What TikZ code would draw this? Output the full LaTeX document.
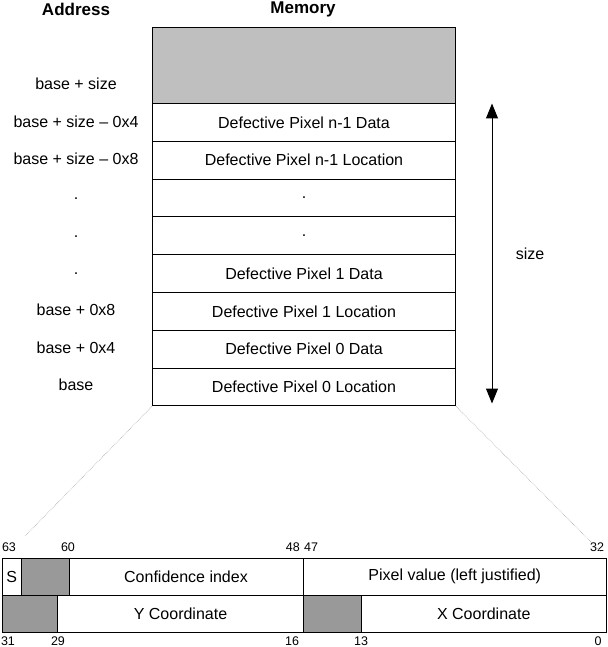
\documentclass[tikz,border=0pt]{standalone}
\usepackage{fontspec}
\setmainfont{Liberation Sans}
\usetikzlibrary{arrows.meta}
\begin{document}
\begin{tikzpicture}[x=1pt,y=-1pt,
  txt/.style={font=\fontsize{16}{18}\selectfont, inner sep=0pt},
  hdr/.style={font=\fontsize{17}{19}\selectfont\bfseries, inner sep=0pt},
  num/.style={font=\fontsize{12.5}{14}\selectfont, inner sep=0pt},
  cell/.style={draw=black, line width=1pt, minimum height=37.8pt, inner sep=0pt, anchor=north west,
    font=\fontsize{16}{18}\selectfont},
  reg/.style={draw=black, line width=1pt, minimum height=37pt, inner sep=0pt, anchor=north west,
    font=\fontsize{16}{18}\selectfont},
  darkfill/.style={fill=black!40},
  zoomline/.style={draw=black!35, line width=0.6pt, densely dotted}
]
\useasboundingbox (0,0) rectangle (607,647);
% headers
\node[hdr] (haddr) at (76,9) {Address};
\node[hdr] (hmem) at (303,9) {Memory};
% memory block
\node[cell, fill=black!25, minimum width=303pt, minimum height=76pt] (mtop) at (152,27) {};
\node[cell, minimum width=303pt] (m7) at (152,103.0) {Defective Pixel n-1 Data};
\node[cell, minimum width=303pt] (m6) at (152,140.8) {Defective Pixel n-1 Location};
\node[cell, minimum width=303pt] (m5) at (152,178.6) {.};
\node[cell, minimum width=303pt] (m4) at (152,216.4) {.};
\node[cell, minimum width=303pt] (m3) at (152,254.2) {Defective Pixel 1 Data};
\node[cell, minimum width=303pt] (m2) at (152,292.0) {Defective Pixel 1 Location};
\node[cell, minimum width=303pt] (m1) at (152,329.8) {Defective Pixel 0 Data};
\node[cell, minimum width=303pt] (m0) at (152,367.6) {Defective Pixel 0 Location};
% addresses
\node[txt] (a8) at (76,84) {base + size};
\node[txt] (a7) at (76,122) {base + size – 0x4};
\node[txt] (a6) at (76,159) {base + size – 0x8};
\node[txt] (a5) at (76,199) {.};
\node[txt] (a4) at (76,237) {.};
\node[txt] (a3) at (76,274) {.};
\node[txt] (a2) at (76,310) {base + 0x8};
\node[txt] (a1) at (76,348) {base + 0x4};
\node[txt] (a0) at (76,385) {base};
% size arrow
\coordinate (sztop) at (492,103.5);
\coordinate (szbot) at (492,403.5);
\draw[line width=1pt, {Triangle[width=12pt,length=15pt]}-{Triangle[width=12pt,length=15pt]}] (sztop) -- (szbot);
\node[txt] (szlbl) at (530,254) {size};
% register
\node[reg, minimum width=18.5pt] (rS) at (2,557.5) {S};
\node[reg, darkfill, minimum width=48pt] (rres1) at (20.5,557.5) {};
\node[reg, minimum width=234pt] (rconf) at (68.5,557.5) {Confidence index};
\node[reg, minimum width=303.5pt] (rpix) at (302.5,557.5) {Pixel value (left justified)};
\node[reg, darkfill, minimum width=55pt] (rres2) at (2,594.5) {};
\node[reg, minimum width=246pt] (ry) at (57,594.5) {Y Coordinate};
\node[reg, darkfill, minimum width=57.5pt] (rres3) at (303,594.5) {};
\node[reg, minimum width=245.5pt] (rx) at (360.5,594.5) {X Coordinate};
% bit numbers
\node[num] (b63) at (9,547) {63};
\node[num] (b60) at (68,547) {60};
\node[num, anchor=east] (b48) at (300,547) {48};
\node[num, anchor=west] (b47) at (304,547) {47};
\node[num] (b32) at (597,547) {32};
\node[num] (b31) at (8,641) {31};
\node[num] (b29) at (58,641) {29};
\node[num] (b16) at (292,641) {16};
\node[num] (b13) at (361,641) {13};
\node[num] (b0) at (598,641) {0};
% zoom lines
\coordinate (zl) at (25,536);
\coordinate (zr) at (601,552);
\draw[zoomline] (m0.south west) -- (zl);
\draw[zoomline] (m0.south east) -- (zr);
\end{tikzpicture}
\end{document}
